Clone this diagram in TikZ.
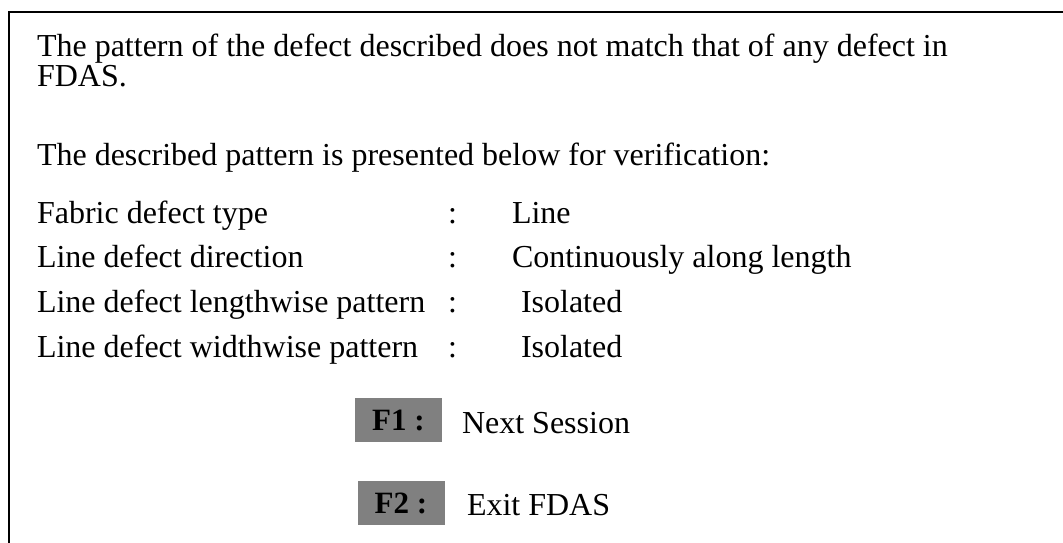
\documentclass[tikz,border=0pt]{standalone}
\usepackage{fontspec}
\setmainfont{Liberation Serif}
\begin{document}
\begin{tikzpicture}[x=1pt,y=-1pt,
  txt/.style={anchor=base west,inner sep=0pt,outer sep=0pt,font=\fontsize{32}{26}\selectfont},
  keybox/.style={draw=none,fill=black!50,minimum width=87pt,minimum height=44pt,inner sep=0pt,
    font=\fontsize{31}{26}\selectfont\bfseries}]
\useasboundingbox (0,0) rectangle (1063,543);
\fill[white] (0,0) rectangle (1063,543);
\draw[line width=2.4pt] (9,543) -- (9,12) -- (1063,12);
\node[txt] (l1) at (37,57) {The pattern of the defect described does not match that of any defect in};
\node[txt] (l2) at (37,86) {FDAS.};
\node[txt] (l3) at (37,165) {The described pattern is presented below for verification:};
\node[txt] (k1) at (37,223) {Fabric defect type};
\node[txt] (k2) at (37,267) {Line defect direction};
\node[txt] (k3) at (37,312) {Line defect lengthwise pattern};
\node[txt] (k4) at (37,357) {Line defect widthwise pattern};
\node[txt] (c1) at (448,223) {:};
\node[txt] (c2) at (448,267) {:};
\node[txt] (c3) at (448,312) {:};
\node[txt] (c4) at (448,357) {:};
\node[txt] (v1) at (512,223) {Line};
\node[txt] (v2) at (512,267) {Continuously along length};
\node[txt] (v3) at (521,312) {Isolated};
\node[txt] (v4) at (521,357) {Isolated};
\node[keybox] (f1) at (398.5,420) {F1 :};
\node[keybox] (f2) at (401,503) {F2 :};
\node[txt] (n1) at (462,433) {Next Session};
\node[txt] (n2) at (467,515) {Exit FDAS};
\end{tikzpicture}
\end{document}
